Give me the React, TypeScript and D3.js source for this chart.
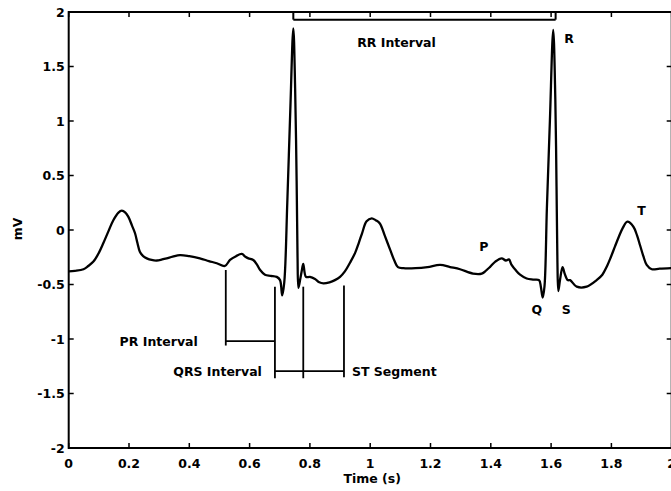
import React from "react";
import * as d3 from "d3";

// ECG trace: time (s) and potential (mV)
const timeS = [
  0.0, 0.02, 0.049, 0.065, 0.082, 0.1, 0.115, 0.132, 0.148, 0.165, 0.176, 0.188, 0.198, 0.21, 0.22, 0.228,
  0.236, 0.247, 0.259, 0.275, 0.292, 0.31, 0.325, 0.345, 0.369, 0.4, 0.435, 0.465, 0.491, 0.518, 0.535, 0.555,
  0.574, 0.586, 0.596, 0.612, 0.625, 0.635, 0.651, 0.67, 0.69, 0.701, 0.708, 0.715, 0.725, 0.735, 0.745, 0.751,
  0.756, 0.759, 0.762, 0.768, 0.774, 0.778, 0.787, 0.8, 0.817, 0.831, 0.845, 0.865, 0.883, 0.9, 0.916, 0.933,
  0.95, 0.962, 0.973, 0.988, 1.005, 1.018, 1.032, 1.048, 1.066, 1.08, 1.092, 1.11, 1.15, 1.19, 1.232, 1.265,
  1.298, 1.341, 1.37, 1.385, 1.397, 1.415, 1.436, 1.45, 1.46, 1.469, 1.483, 1.497, 1.519, 1.54, 1.56, 1.566,
  1.572, 1.578, 1.586, 1.596, 1.607, 1.614, 1.618, 1.621, 1.624, 1.63, 1.638, 1.645, 1.655, 1.663, 1.685, 1.718,
  1.751, 1.77, 1.784, 1.798, 1.812, 1.825, 1.837, 1.853, 1.873, 1.885, 1.895, 1.906, 1.917, 1.934, 1.96, 2.0,
];
const potentialMv = [
  -0.38, -0.375, -0.36, -0.33, -0.29, -0.21, -0.12, -0.01, 0.09, 0.16, 0.177, 0.16, 0.12, 0.04, -0.03, -0.12,
  -0.2, -0.24, -0.26, -0.275, -0.28, -0.27, -0.26, -0.245, -0.23, -0.24, -0.26, -0.285, -0.305, -0.33, -0.275, -0.24,
  -0.22, -0.245, -0.26, -0.275, -0.32, -0.367, -0.41, -0.42, -0.43, -0.46, -0.6, -0.48, 0.25, 1.1, 1.85, 1.3,
  0.45, -0.25, -0.53, -0.45, -0.36, -0.31, -0.43, -0.43, -0.45, -0.48, -0.49, -0.48, -0.46, -0.43, -0.38, -0.3,
  -0.21, -0.12, -0.03, 0.08, 0.107, 0.09, 0.06, -0.05, -0.18, -0.28, -0.34, -0.35, -0.35, -0.34, -0.32, -0.34,
  -0.36, -0.4, -0.4, -0.37, -0.34, -0.29, -0.26, -0.28, -0.27, -0.32, -0.37, -0.41, -0.445, -0.455, -0.46, -0.52,
  -0.62, -0.52, 0.2, 1.0, 1.835, 1.2, 0.4, -0.3, -0.56, -0.45, -0.34, -0.4, -0.46, -0.46, -0.52, -0.52,
  -0.46, -0.41, -0.34, -0.25, -0.15, -0.06, 0.015, 0.076, 0.03, -0.05, -0.14, -0.24, -0.32, -0.36, -0.355, -0.35,
];

// Axis ticks
const xTicks = [0, 0.2, 0.4, 0.6, 0.8, 1, 1.2, 1.4, 1.6, 1.8, 2];
const yTicks = [-2, -1.5, -1, -0.5, 0, 0.5, 1, 1.5, 2];

// Wave labels: [text, time, mV]
const waveLabels: [string, number, number][] = [
  ["R", 1.66, 1.76],
  ["P", 1.377, -0.15],
  ["T", 1.9, 0.18],
  ["Q", 1.553, -0.73],
  ["S", 1.65, -0.73],
];

// Interval markers (seconds)
const prStart = 0.521;
const qrsStart = 0.684;
const qrsEnd = 0.778;
const stEnd = 0.913;
const rrStart = 0.745;
const rrEnd = 1.615;

const W = 671;
const H = 491;
const FONT = "'DejaVu Sans', sans-serif";

export default function App() {
  const x = d3.scaleLinear().domain([0, 2]).range([68.7, 671.7]);
  const y = d3.scaleLinear().domain([-2, 2]).range([448, 12]);

  const points = timeS.map((t, i) => [t, potentialMv[i]] as [number, number]);
  const line = d3
    .line<[number, number]>()
    .x((d) => x(d[0]))
    .y((d) => y(d[1]))
    .curve(d3.curveCatmullRom.alpha(0.5));

  const [x0, x1] = x.range();
  const [yB, yT] = y.range();
  const tickLen = 5;
  const fmt = (v: number) => (v < 0 ? "-" + String(-v) : String(v));

  const textStyle = { fontFamily: FONT, fontWeight: 700, fontSize: 12.5, fill: "#000" } as const;

  // bracket geometry in data units
  const brTop = -0.52;
  const brBottom = -1.36;
  const prLevel = -1.02;
  const qrsLevel = -1.295;
  const rrLevel = 1.93;

  return (
    <svg
      width={W}
      height={H}
      viewBox={`0 0 ${W} ${H}`}
      style={{ position: "fixed", left: 0, top: 0, background: "#fff", display: "block" }}
    >
      <rect x={0} y={0} width={W} height={H} fill="#fff" />

      {/* frame */}
      <rect x={x0} y={yT} width={x1 - x0} height={yB - yT} fill="none" stroke="#000" strokeWidth={2} />

      {/* ticks on all sides */}
      {xTicks.map((t) => (
        <g key={"xt" + t}>
          <line x1={x(t)} x2={x(t)} y1={yB} y2={yB - tickLen} stroke="#000" strokeWidth={1.5} />
          <line x1={x(t)} x2={x(t)} y1={yT} y2={yT + tickLen} stroke="#000" strokeWidth={1.5} />
          <text x={x(t)} y={yB + 20} textAnchor="middle" style={textStyle}>
            {fmt(t)}
          </text>
        </g>
      ))}
      {yTicks.map((v) => (
        <g key={"yt" + v}>
          <line x1={x0} x2={x0 + tickLen} y1={y(v)} y2={y(v)} stroke="#000" strokeWidth={1.5} />
          <line x1={x1} x2={x1 - tickLen} y1={y(v)} y2={y(v)} stroke="#000" strokeWidth={1.5} />
          <text x={x0 - 4} y={y(v)} dy="0.36em" textAnchor="end" style={textStyle}>
            {fmt(v)}
          </text>
        </g>
      ))}

      {/* axis titles */}
      <text x={(x0 + x1) / 2 + 2} y={483} textAnchor="middle" style={textStyle}>
        Time (s)
      </text>
      <text
        transform={`translate(21.5, ${y(0) - 1}) rotate(-90)`}
        textAnchor="middle"
        style={textStyle}
      >
        mV
      </text>

      {/* ECG trace */}
      <path d={line(points) ?? ""} fill="none" stroke="#000" strokeWidth={2.3} strokeLinejoin="round" />

      {/* RR interval bracket */}
      <g stroke="#000" strokeWidth={2} fill="none">
        <line x1={x(rrStart)} x2={x(rrEnd)} y1={y(rrLevel)} y2={y(rrLevel)} />
        <line x1={x(rrStart)} x2={x(rrStart)} y1={y(rrLevel)} y2={yT} />
        <line x1={x(rrEnd)} x2={x(rrEnd)} y1={y(rrLevel)} y2={yT} />
      </g>
      <text x={x((rrStart + rrEnd) / 2) - 28} y={y(1.68)} textAnchor="middle" style={textStyle}>
        RR Interval
      </text>

      {/* PR / QRS / ST brackets */}
      <g stroke="#000" strokeWidth={1.8} fill="none">
        <line x1={x(prStart)} x2={x(prStart)} y1={y(-0.367)} y2={y(-1.06)} />
        <line x1={x(prStart)} x2={x(qrsStart)} y1={y(prLevel)} y2={y(prLevel)} />
        <line x1={x(qrsStart)} x2={x(qrsStart)} y1={y(brTop)} y2={y(brBottom)} />
        <line x1={x(qrsEnd)} x2={x(qrsEnd)} y1={y(brTop)} y2={y(brBottom)} />
        <line x1={x(stEnd)} x2={x(stEnd)} y1={y(brTop + 0.01)} y2={y(brBottom + 0.01)} />
        <line x1={x(qrsStart)} x2={x(stEnd)} y1={y(qrsLevel)} y2={y(qrsLevel)} />
      </g>
      <text x={x(prStart) - 28} y={y(prLevel)} dy="0.36em" textAnchor="end" style={textStyle}>
        PR Interval
      </text>
      <text x={x(qrsStart) - 13} y={y(qrsLevel)} dy="0.36em" textAnchor="end" style={textStyle}>
        QRS Interval
      </text>
      <text x={x(stEnd) + 8} y={y(qrsLevel)} dy="0.36em" textAnchor="start" style={textStyle}>
        ST Segment
      </text>

      {/* wave labels */}
      {waveLabels.map(([label, t, v]) => (
        <text key={label} x={x(t)} y={y(v)} dy="0.36em" textAnchor="middle" style={textStyle}>
          {label}
        </text>
      ))}
    </svg>
  );
}
